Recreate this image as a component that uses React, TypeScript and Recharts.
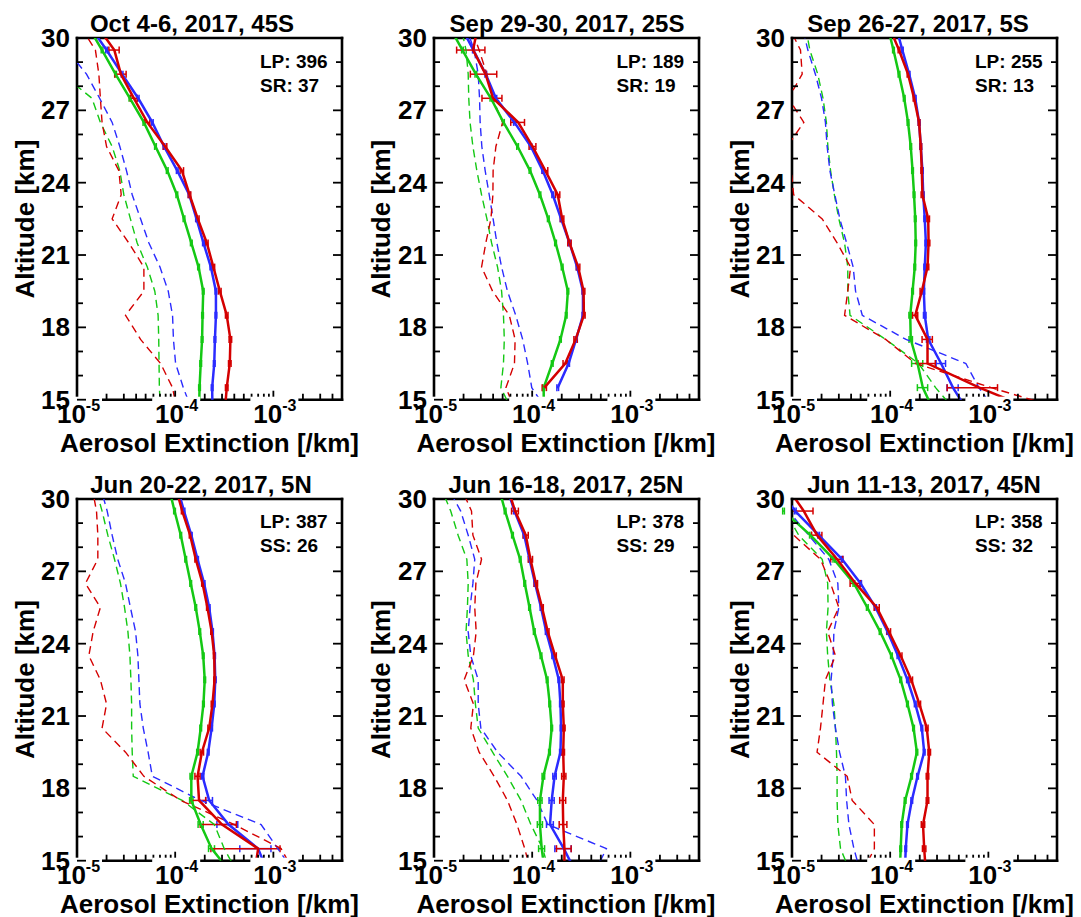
import React from "react";
import { ScatterChart, Scatter, XAxis, YAxis, ErrorBar } from "recharts";

// altitude grid of every profile (km); the first and last points run off the plot
const ALT = [14.5, 15.5, 16.5, 17.5, 18.5, 19.5, 20.5, 21.5, 22.5, 23.5, 24.5, 25.5, 26.5, 27.5, 28.5, 29.5, 30.5];

const X_TICKS = [
  1e-5, 2e-5, 3e-5, 4e-5, 5e-5, 6e-5, 7e-5, 8e-5, 9e-5,
  1e-4, 2e-4, 3e-4, 4e-4, 5e-4, 6e-4, 7e-4, 8e-4, 9e-4,
  1e-3, 2e-3, 3e-3, 4e-3,
];
const X_MAJOR = [1e-5, 1e-4, 1e-3];
const X_EXP = ["-5", "-4", "-3"];
const Y_TICKS = [15, 16, 17, 18, 19, 20, 21, 22, 23, 24, 25, 26, 27, 28, 29, 30];
const Y_MAJOR = [15, 18, 21, 24, 27, 30];

const TITLES = [
  "Oct 4-6, 2017, 45S",
  "Sep 29-30, 2017, 25S",
  "Sep 26-27, 2017, 5S",
  "Jun 20-22, 2017, 5N",
  "Jun 16-18, 2017, 25N",
  "Jun 11-13, 2017, 45N",
];
const LP_TEXT = ["LP: 396", "LP: 189", "LP: 255", "LP: 387", "LP: 378", "LP: 358"];
const SUB_TEXT = ["SR: 37", "SR: 19", "SR: 13", "SS: 26", "SS: 29", "SS: 32"];

// ---- profiles, 14.5 .. 30.5 km ----
const p1Red = [3.2e-4, 3.35e-4, 3.6e-4, 3.65e-4, 3.35e-4, 2.85e-4, 2.45e-4, 2.1e-4, 1.7e-4, 1.4e-4, 1.17e-4, 7.9e-5, 5.2e-5, 3.8e-5, 2.8e-5, 2.4e-5, 1.6e-5];
const p1Blue = [2.4e-4, 2.38e-4, 2.5e-4, 2.54e-4, 2.6e-4, 2.6e-4, 2.31e-4, 1.94e-4, 1.65e-4, 1.39e-4, 1.05e-4, 7.7e-5, 5.85e-5, 4.2e-5, 2.88e-5, 2.0e-5, 1.35e-5];
const p1Green = [1.75e-4, 1.77e-4, 1.82e-4, 1.88e-4, 1.9e-4, 1.93e-4, 1.73e-4, 1.46e-4, 1.23e-4, 1.04e-4, 8.3e-5, 6.3e-5, 4.8e-5, 3.46e-5, 2.47e-5, 1.8e-5, 1.29e-5];
const p1RedD = [1.05e-4, 9.4e-5, 7.1e-5, 4.44e-5, 3.12e-5, 4.8e-5, 4.8e-5, 3.37e-5, 2.28e-5, 2.82e-5, 2.67e-5, 2.0e-5, 1.8e-5, 1.73e-5, 1.67e-5, 1.54e-5, 1.08e-5];
const p1BlueD = [1.5e-4, 1.21e-4, 1.01e-4, 9.6e-5, 9.4e-5, 8.5e-5, 7.0e-5, 5.4e-5, 4.44e-5, 3.65e-5, 3.19e-5, 2.73e-5, 2.28e-5, 1.7e-5, 1.25e-5, 7.9e-6, 6.3e-6];
const p1GreenD = [7.1e-5, 6.9e-5, 6.85e-5, 6.8e-5, 6.7e-5, 6.2e-5, 5.2e-5, 4.1e-5, 3.5e-5, 3.0e-5, 2.73e-5, 2.28e-5, 1.73e-5, 1.42e-5, 7.1e-6, 5.8e-6, 4.5e-6];

const p2Red = [null, 1.33e-4, 2.17e-4, 2.77e-4, 3.36e-4, 3.34e-4, 2.94e-4, 2.4e-4, 2.02e-4, 1.82e-4, 1.36e-4, 1.01e-4, 7.2e-5, 4.0e-5, 3.35e-5, 2.5e-5, 2.8e-5];
const p2Blue = [null, 1.82e-4, 2.35e-4, 2.8e-4, 3.29e-4, 3.29e-4, 2.87e-4, 2.4e-4, 1.97e-4, 1.62e-4, 1.28e-4, 9.7e-5, 6.6e-5, 4.27e-5, 3.37e-5, 2.52e-5, 1.87e-5];
const p2Green = [1.31e-4, 1.31e-4, 1.6e-4, 1.94e-4, 2.22e-4, 2.31e-4, 2.02e-4, 1.73e-4, 1.46e-4, 1.2e-4, 9.5e-5, 7.1e-5, 5.1e-5, 3.8e-5, 2.67e-5, 1.95e-5, 1.42e-5];
const p2RedD = [6.8e-5, 5.4e-5, 6.6e-5, 6.7e-5, 5.85e-5, 3.95e-5, 3.05e-5, 3.37e-5, 3.8e-5, 3.98e-5, 4.0e-5, 4.27e-5, 5.0e-5, 3.95e-5, 3.46e-5, 2.88e-5, 2.37e-5];
const p2BlueD = [1.44e-4, 9.9e-5, 9.0e-5, 8.0e-5, 6.8e-5, 5.6e-5, 4.88e-5, 4.37e-5, 4.0e-5, 3.65e-5, 3.32e-5, 3.07e-5, 2.95e-5, 2.91e-5, 2.82e-5, 2.56e-5, 2.11e-5];
const p2GreenD = [6.3e-5, 4.8e-5, 5.1e-5, 5.2e-5, 5.1e-5, 4.88e-5, 4.44e-5, 3.86e-5, 3.46e-5, 3.05e-5, 2.73e-5, 2.49e-5, 2.33e-5, 2.26e-5, 2.23e-5, 2.12e-5, 1.87e-5];

const p3Red = [3.2e-3, 8.1e-4, 2.4e-4, 2.4e-4, 1.8e-4, 2.1e-4, 2.4e-4, 2.46e-4, 2.44e-4, 2.13e-4, 2.1e-4, 2.05e-4, 1.97e-4, 1.75e-4, 1.52e-4, 1.23e-4, 9.7e-5];
const p3Blue = [6.2e-4, 4.36e-4, 3.3e-4, 2.44e-4, 2.25e-4, 2.2e-4, 2.25e-4, 2.31e-4, 2.25e-4, 2.17e-4, 2.13e-4, 2.05e-4, 1.97e-4, 1.8e-4, 1.56e-4, 1.33e-4, 1.14e-4];
const p3Green = [2.8e-4, 2.15e-4, 1.9e-4, 1.62e-4, 1.6e-4, 1.69e-4, 1.78e-4, 1.82e-4, 1.8e-4, 1.75e-4, 1.69e-4, 1.62e-4, 1.52e-4, 1.39e-4, 1.23e-4, 1.08e-4, 9.4e-5];
const p3RedD = [7.0e-3, 1.07e-3, 1.82e-4, 9.0e-5, 3.43e-5, 3.7e-5, 3.95e-5, 2.88e-5, 2.03e-5, 1.04e-5, 9.8e-6, 8.9e-6, 1.32e-5, 9.2e-6, 1.27e-5, 1.22e-5, 9.2e-6];
const p3BlueD = [1.2e-3, 8.0e-4, 5.9e-4, 1.45e-4, 5.2e-5, 4.44e-5, 4.2e-5, 3.6e-5, 3.07e-5, 2.73e-5, 2.43e-5, 2.28e-5, 2.19e-5, 2.0e-5, 1.73e-5, 1.45e-5, 1.27e-5];
const p3GreenD = [4.7e-4, 2.9e-4, 1.95e-4, 9.0e-5, 3.9e-5, 3.7e-5, 3.7e-5, 3.43e-5, 3.0e-5, 2.7e-5, 2.47e-5, 2.32e-5, 2.24e-5, 2.07e-5, 1.83e-5, 1.52e-5, 1.37e-5];

const p4Red = [6.4e-4, 7.0e-4, 3.0e-4, 1.75e-4, 1.69e-4, 1.87e-4, 2.22e-4, 2.4e-4, 2.52e-4, 2.5e-4, 2.35e-4, 2.13e-4, 1.9e-4, 1.62e-4, 1.42e-4, 1.18e-4, 1.01e-4];
const p4Blue = [8.8e-4, 7.0e-4, 3.5e-4, 2.22e-4, 1.9e-4, 2.17e-4, 2.35e-4, 2.5e-4, 2.56e-4, 2.52e-4, 2.4e-4, 2.22e-4, 1.97e-4, 1.69e-4, 1.46e-4, 1.23e-4, 1.05e-4];
const p4Green = [3.7e-4, 2.35e-4, 1.82e-4, 1.46e-4, 1.46e-4, 1.69e-4, 1.82e-4, 1.94e-4, 2.0e-4, 1.93e-4, 1.78e-4, 1.62e-4, 1.44e-4, 1.28e-4, 1.14e-4, 9.85e-5, 8.6e-5];
const p4RedD = [1.64e-3, 1.2e-3, 4.0e-4, 1.14e-4, 4.8e-5, 3.12e-5, 1.8e-5, 2.0e-5, 1.73e-5, 1.32e-5, 1.46e-5, 1.73e-5, 1.22e-5, 1.63e-5, 1.63e-5, 1.58e-5, 1.42e-5];
const p4BlueD = [1.64e-3, 1.11e-3, 7.5e-4, 1.82e-4, 5.85e-5, 5.3e-5, 4.73e-5, 4.37e-5, 4.27e-5, 4.17e-5, 3.95e-5, 3.5e-5, 3.12e-5, 2.6e-5, 2.28e-5, 2.03e-5, 1.73e-5];
const p4GreenD = [4.3e-4, 3.16e-4, 2.5e-4, 1.18e-4, 3.74e-5, 3.65e-5, 3.6e-5, 3.6e-5, 3.54e-5, 3.46e-5, 3.3e-5, 3.05e-5, 2.77e-5, 2.41e-5, 2.06e-5, 1.8e-5, 1.54e-5];

const p5Red = [2.13e-4, 2.13e-4, 2.07e-4, 2.05e-4, 2.1e-4, 2.07e-4, 2.1e-4, 2.05e-4, 2.05e-4, 1.71e-4, 1.44e-4, 1.26e-4, 1.09e-4, 9.6e-5, 8.6e-5, 6.7e-5, 5.6e-5];
const p5Blue = [2.8e-4, 2.1e-4, 1.52e-4, 1.58e-4, 1.69e-4, 1.94e-4, 1.97e-4, 1.94e-4, 1.87e-4, 1.62e-4, 1.39e-4, 1.23e-4, 1.07e-4, 9.4e-5, 8.3e-5, 6.6e-5, 5.5e-5];
const p5Green = [1.35e-4, 1.25e-4, 1.2e-4, 1.2e-4, 1.3e-4, 1.5e-4, 1.58e-4, 1.51e-4, 1.42e-4, 1.23e-4, 1.05e-4, 9.4e-5, 8.4e-5, 7.55e-5, 6.3e-5, 5.3e-5, 4.55e-5];
const p5RedD = [9.7e-5, 8.4e-5, 7.0e-5, 5.6e-5, 4.1e-5, 2.88e-5, 2.37e-5, 2.52e-5, 2.03e-5, 2.52e-5, 2.69e-5, 2.6e-5, 2.67e-5, 3.05e-5, 2.49e-5, 2.41e-5, 1.87e-5];
const p5BlueD = [4.3e-4, 5.7e-4, 1.44e-4, 1.12e-4, 7.7e-5, 4.44e-5, 3.0e-5, 2.82e-5, 2.82e-5, 2.37e-5, 2.23e-5, 2.33e-5, 2.49e-5, 2.6e-5, 2.23e-5, 1.87e-5, 1.37e-5];
const p5GreenD = [1.5e-4, 1.28e-4, 9.7e-5, 7.7e-5, 5.6e-5, 3.95e-5, 2.82e-5, 2.64e-5, 2.52e-5, 2.23e-5, 2.12e-5, 2.19e-5, 2.23e-5, 2.16e-5, 1.76e-5, 1.48e-5, 1.17e-5];

const p6Red = [2.31e-4, 2.22e-4, 2.16e-4, 2.4e-4, 2.4e-4, 2.5e-4, 2.36e-4, 1.98e-4, 1.64e-4, 1.28e-4, 9.7e-5, 7.3e-5, 4.44e-5, 2.88e-5, 1.8e-5, 1.32e-5, 8.9e-6];
const p6Blue = [1.41e-4, 1.44e-4, 1.5e-4, 1.66e-4, 1.9e-4, 2.22e-4, 2.1e-4, 1.8e-4, 1.5e-4, 1.2e-4, 9.4e-5, 7.1e-5, 5.0e-5, 3.24e-5, 1.87e-5, 1.08e-5, 7.0e-6];
const p6Green = [1.25e-4, 1.28e-4, 1.31e-4, 1.42e-4, 1.65e-4, 1.87e-4, 1.73e-4, 1.5e-4, 1.28e-4, 1.03e-4, 7.9e-5, 5.85e-5, 4.27e-5, 2.67e-5, 1.54e-5, 8.2e-6, 5.1e-6];
const p6RedD = [5.2e-5, 6.9e-5, 6.9e-5, 4.1e-5, 3.65e-5, 1.8e-5, 1.95e-5, 2.07e-5, 2.19e-5, 2.77e-5, 2.31e-5, 3.0e-5, 2.47e-5, 1.95e-5, 1.04e-5, 8.2e-6, 6.0e-6];
const p6BlueD = [5.0e-5, 4.27e-5, 3.8e-5, 3.6e-5, 3.5e-5, 3.05e-5, 2.77e-5, 2.58e-5, 2.5e-5, 2.63e-5, 2.67e-5, 3.0e-5, 2.93e-5, 2.37e-5, 1.48e-5, 9.2e-6, 7.6e-6];
const p6GreenD = [3.95e-5, 3.12e-5, 2.93e-5, 2.88e-5, 2.88e-5, 2.84e-5, 2.77e-5, 2.67e-5, 2.43e-5, 2.31e-5, 2.24e-5, 2.33e-5, 2.31e-5, 2.03e-5, 1.17e-5, 8.5e-6, 6.5e-6];

// relative error bars, 15.5 .. 29.5 km
const SMALL_ERR = [0.02, 0.02, 0.02, 0.02, 0.02, 0.02, 0.02, 0.02, 0.02, 0.02, 0.02, 0.02, 0.02, 0.02, 0.02];
const p1RedErr = [0.03, 0.03, 0.03, 0.03, 0.03, 0.03, 0.03, 0.03, 0.03, 0.04, 0.04, 0.06, 0.08, 0.13, 0.12];
const p2RedErr = [0.05, 0.05, 0.04, 0.03, 0.03, 0.04, 0.04, 0.04, 0.05, 0.06, 0.08, 0.16, 0.23, 0.3, 0.32];
const p3RedErr = [0.53, 0.2, 0.12, 0.06, 0.04, 0.03, 0.03, 0.03, 0.03, 0.02, 0.02, 0.02, 0.02, 0.02, 0.02];
const p3BlueErr = [0.13, 0.11, 0.04, 0.03, 0.02, 0.02, 0.02, 0.02, 0.02, 0.02, 0.02, 0.02, 0.02, 0.02, 0.02];
const p3GreenErr = [0.12, 0.13, 0.04, 0.03, 0.02, 0.02, 0.02, 0.02, 0.02, 0.02, 0.02, 0.02, 0.02, 0.02, 0.02];
const p4RedErr = [0.67, 0.4, 0.17, 0.06, 0.04, 0.03, 0.03, 0.02, 0.02, 0.02, 0.02, 0.02, 0.02, 0.02, 0.02];
const p4BlueErr = [0.35, 0.24, 0.08, 0.03, 0.02, 0.02, 0.02, 0.02, 0.02, 0.02, 0.02, 0.02, 0.02, 0.02, 0.02];
const p4GreenErr = [0.07, 0.06, 0.04, 0.03, 0.02, 0.02, 0.02, 0.02, 0.02, 0.02, 0.02, 0.02, 0.02, 0.02, 0.02];
const p5RedErr = [0.17, 0.09, 0.07, 0.05, 0.03, 0.03, 0.03, 0.03, 0.03, 0.03, 0.03, 0.04, 0.05, 0.06, 0.08];
const p5BlueErr = [0.19, 0.08, 0.06, 0.04, 0.02, 0.02, 0.02, 0.02, 0.02, 0.02, 0.02, 0.02, 0.02, 0.02, 0.02];
const p5GreenErr = [0.07, 0.06, 0.05, 0.03, 0.02, 0.02, 0.02, 0.02, 0.02, 0.02, 0.02, 0.02, 0.02, 0.02, 0.02];
const p6RedErr = [0.04, 0.04, 0.03, 0.03, 0.03, 0.03, 0.03, 0.03, 0.03, 0.04, 0.06, 0.12, 0.14, 0.12, 0.24];

type Profile = (number | null)[];
type PanelData = {
  red: Profile; blue: Profile; green: Profile;
  redD: Profile; blueD: Profile; greenD: Profile;
  redErr: number[]; blueErr: number[]; greenErr: number[];
};

const PANELS: PanelData[] = [
  { red: p1Red, blue: p1Blue, green: p1Green, redD: p1RedD, blueD: p1BlueD, greenD: p1GreenD, redErr: p1RedErr, blueErr: SMALL_ERR, greenErr: SMALL_ERR },
  { red: p2Red, blue: p2Blue, green: p2Green, redD: p2RedD, blueD: p2BlueD, greenD: p2GreenD, redErr: p2RedErr, blueErr: SMALL_ERR, greenErr: SMALL_ERR },
  { red: p3Red, blue: p3Blue, green: p3Green, redD: p3RedD, blueD: p3BlueD, greenD: p3GreenD, redErr: p3RedErr, blueErr: p3BlueErr, greenErr: p3GreenErr },
  { red: p4Red, blue: p4Blue, green: p4Green, redD: p4RedD, blueD: p4BlueD, greenD: p4GreenD, redErr: p4RedErr, blueErr: p4BlueErr, greenErr: p4GreenErr },
  { red: p5Red, blue: p5Blue, green: p5Green, redD: p5RedD, blueD: p5BlueD, greenD: p5GreenD, redErr: p5RedErr, blueErr: p5BlueErr, greenErr: p5GreenErr },
  { red: p6Red, blue: p6Blue, green: p6Green, redD: p6RedD, blueD: p6BlueD, greenD: p6GreenD, redErr: p6RedErr, blueErr: SMALL_ERR, greenErr: SMALL_ERR },
];

// layout (page pixels)
const BOX_LEFT = [77, 433.5, 792, 77, 433.5, 792];
const BOX_TOP = [38.3, 38.3, 38.3, 498.8, 498.8, 498.8];
const TITLE_X = [192, 567, 918, 201, 566, 924];
const PW = 265;
const PH = 361.7;
const CW = 400;
const CH = 470;
const ML = 90;
const MT = 45;
const AX = 1; // axis band thickness (an axis of zero size is not drawn)

const RED = "#d40000";
const BLUE = "#2b2bff";
const GREEN = "#14c814";
const FONT = '"Liberation Sans", Arial, Helvetica, sans-serif';
const AXIS_LINE = { stroke: "#000", strokeWidth: 2.6, strokeLinecap: "square" as const };

type Pt = { alt: number; v: number; err?: number };

function toPoints(vals: Profile, errs?: number[]): Pt[] {
  const pts: Pt[] = [];
  ALT.forEach((alt, i) => {
    const v = vals[i];
    if (v == null) return;
    const e = errs && i >= 1 && i <= errs.length ? errs[i - 1] : undefined;
    pts.push({ alt, v, err: e != null ? v * e : undefined });
  });
  return pts;
}

const noShape = () => <g />;

function BottomTick(props: any) {
  const { x, y, payload } = props;
  const k = X_MAJOR.indexOf(payload.value);
  return (
    <g>
      <line x1={x} x2={x} y1={y} y2={y - (k >= 0 ? 9 : 6)} stroke="#000" strokeWidth={1.8} />
      {k >= 0 && (
        <g>
          <rect x={x - 23} y={y - 3} width={48} height={30} fill="#fff" />
          <text x={x + 1.5} y={y + 23.5} textAnchor="middle" fontFamily={FONT} fontWeight="bold" fontSize={26} fill="#000">
            10
            <tspan dy={-12} fontSize={16}>{X_EXP[k]}</tspan>
          </text>
        </g>
      )}
    </g>
  );
}

function TopTick(props: any) {
  const { x, y, payload } = props;
  const major = X_MAJOR.indexOf(payload.value) >= 0;
  return <line x1={x} x2={x} y1={y} y2={y + (major ? 9 : 6)} stroke="#000" strokeWidth={1.8} />;
}

function LeftTick(props: any) {
  const { x, y, payload } = props;
  const major = Y_MAJOR.indexOf(payload.value) >= 0;
  return (
    <g>
      <line x1={x} x2={x + (major ? 9 : 6)} y1={y} y2={y} stroke="#000" strokeWidth={1.8} />
      {major && (
        <text x={x - 7} y={y + 9} textAnchor="end" fontFamily={FONT} fontWeight="bold" fontSize={26} fill="#000">
          {payload.value}
        </text>
      )}
    </g>
  );
}

function RightTick(props: any) {
  const { x, y, payload } = props;
  const major = Y_MAJOR.indexOf(payload.value) >= 0;
  return <line x1={x} x2={x - (major ? 9 : 6)} y1={y} y2={y} stroke="#000" strokeWidth={1.8} />;
}

function series(key: string, vals: Profile, color: string, dashed: boolean, errs?: number[]) {
  return (
    <Scatter
      key={key}
      xAxisId="b"
      yAxisId="l"
      data={toPoints(vals, errs)}
      fill={color}
      line={dashed ? { stroke: color, strokeWidth: 1.4, strokeDasharray: "8 5" } : { stroke: color, strokeWidth: 2.5 }}
      shape={noShape}
      isAnimationActive={false}
    >
      {errs && (
        <ErrorBar dataKey="err" direction="x" width={3.5} stroke={color} strokeWidth={1.5} isAnimationActive={false} />
      )}
    </Scatter>
  );
}

function Panel({ d, i }: { d: PanelData; i: number }) {
  return (
    <div style={{ position: "absolute", left: BOX_LEFT[i] - ML, top: BOX_TOP[i] - MT }}>
      <ScatterChart
        width={CW}
        height={CH}
        margin={{ left: ML - AX, top: MT - AX, right: CW - ML - PW - AX, bottom: CH - MT - PH - AX }}
      >
        <YAxis yAxisId="r" orientation="right" type="number" domain={[15, 30]} allowDataOverflow ticks={Y_TICKS} interval={0}
          width={AX} tickSize={0} tickMargin={0} tickLine={false} axisLine={AXIS_LINE} tick={RightTick} />
        <XAxis xAxisId="t" orientation="top" type="number" scale="log" domain={[1e-5, 5e-3]} allowDataOverflow ticks={X_TICKS}
          interval={0} height={AX} tickSize={0} tickMargin={0} tickLine={false} axisLine={AXIS_LINE} tick={TopTick} />
        <XAxis xAxisId="b" type="number" dataKey="v" scale="log" domain={[1e-5, 5e-3]} allowDataOverflow ticks={X_TICKS}
          interval={0} height={AX} tickSize={0} tickMargin={0} tickLine={false} axisLine={AXIS_LINE} tick={BottomTick} />
        <YAxis yAxisId="l" type="number" dataKey="alt" domain={[15, 30]} allowDataOverflow ticks={Y_TICKS} interval={0}
          width={AX} tickSize={0} tickMargin={0} tickLine={false} axisLine={AXIS_LINE} tick={LeftTick} />
        {series("gd", d.greenD, GREEN, true)}
        {series("bd", d.blueD, BLUE, true)}
        {series("rd", d.redD, RED, true)}
        {series("g", d.green, GREEN, false, d.greenErr)}
        {series("b", d.blue, BLUE, false, d.blueErr)}
        {series("r", d.red, RED, false, d.redErr)}
      </ScatterChart>
    </div>
  );
}

export default function App() {
  return (
    <div style={{ position: "absolute", left: 0, top: 0, width: 1081, height: 917, overflow: "hidden", background: "#fff" }}>
      {PANELS.map((d, i) => (
        <Panel key={i} d={d} i={i} />
      ))}
      <svg width={1081} height={917} style={{ position: "absolute", left: 0, top: 0, pointerEvents: "none" }}
        fontFamily={FONT} fontWeight="bold" fill="#000">
        {PANELS.map((_, i) => {
          const left = BOX_LEFT[i];
          const top = BOX_TOP[i];
          const yMid = top + PH / 2;
          return (
            <g key={i}>
              <text x={TITLE_X[i]} y={top - 6} textAnchor="middle" fontSize={24}>{TITLES[i]}</text>
              <text x={left + 183} y={top + 29.5} fontSize={19}>{LP_TEXT[i]}</text>
              <text x={left + 183} y={top + 53.5} fontSize={19}>{SUB_TEXT[i]}</text>
              <text x={left + PW / 2} y={top + PH + 52} textAnchor="middle" fontSize={26}>Aerosol Extinction [/km]</text>
              <text x={left - 43} y={yMid} textAnchor="middle" fontSize={26} transform={`rotate(-90 ${left - 43} ${yMid})`}>
                Altitude [km]
              </text>
            </g>
          );
        })}
      </svg>
    </div>
  );
}
